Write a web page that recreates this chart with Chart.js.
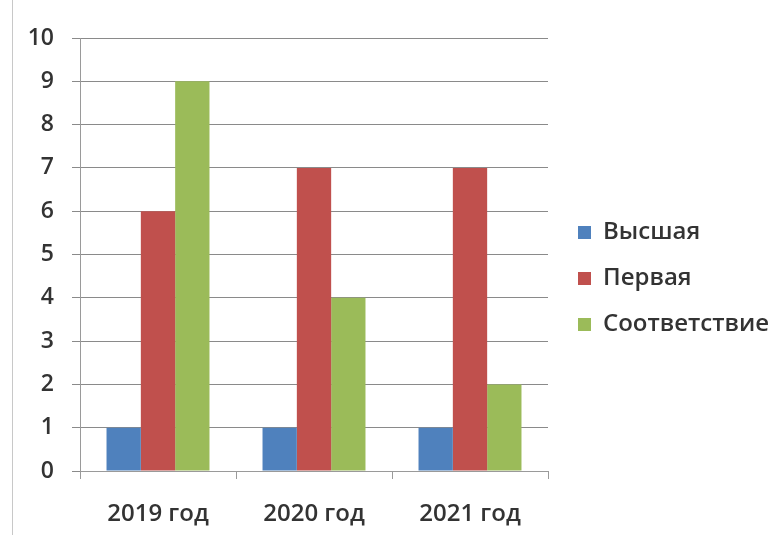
<!DOCTYPE html>
<html><head><meta charset="utf-8">
<script src="https://cdn.jsdelivr.net/npm/chart.js@4.4.0/dist/chart.umd.min.js"></script>
<style>
html,body{margin:0;padding:0;background:#fff;}
#wrap{position:relative;width:782px;height:535px;}
#frame{position:absolute;left:12px;top:0;width:1px;height:535px;background:#c8c8c8;}
canvas{position:absolute;left:0;top:0;}
</style></head>
<body><div id="wrap"><div id="frame"></div><canvas id="c" width="782" height="535"></canvas></div>
<script>
const categories = ['2019 год', '2020 год', '2021 год'];
const seriesNames = ['Высшая', 'Первая', 'Соответствие'];
const vysshaya = [1, 1, 1];
const pervaya = [6, 7, 7];
const sootvetstvie = [9, 4, 2];
const yTicks = [0,1,2,3,4,5,6,7,8,9,10];

const colors = ['#4F81BD', '#C0504D', '#9BBB59'];
const textColor = '#333333';
const FONT = '"Open Sans", "Noto Sans", sans-serif';

const legendPlugin = {
  id: 'legendPos',
  beforeInit(chart) {
    const lg = chart.legend;
    const fit = lg.fit;
    lg.fit = function () { fit.call(this); this.width = 234; };
  },
  afterLayout(chart) {
    const lg = chart.legend;
    lg.left = 578 - lg.options.labels.padding;
    lg.top -= 8; lg.bottom -= 8;
  }
};

new Chart(document.getElementById('c'), {
  type: 'bar',
  data: {
    labels: categories,
    datasets: [
      { label: seriesNames[0], data: vysshaya, backgroundColor: colors[0] },
      { label: seriesNames[1], data: pervaya, backgroundColor: colors[1] },
      { label: seriesNames[2], data: sootvetstvie, backgroundColor: colors[2] }
    ]
  },
  plugins: [legendPlugin],
  options: {
    responsive: false,
    animation: false,
    devicePixelRatio: 1,
    layout: { padding: { top: 38, left: 0, right: 0, bottom: 0 } },
    datasets: { bar: { categoryPercentage: 0.66, barPercentage: 1.0 } },
    plugins: {
      tooltip: { enabled: false },
      legend: {
        position: 'right',
        align: 'center',
        labels: {
          boxWidth: 13, boxHeight: 13, padding: 22,
          color: textColor,
          font: { family: FONT, size: 24, weight: '600' }
        }
      }
    },
    scales: {
      x: {
        afterFit(s) { s.height = 64; },
        grid: { display: true, drawOnChartArea: false, drawTicks: true, tickLength: 8, color: '#9a9a9a', offset: true },
        border: { display: true, color: '#9a9a9a' },
        ticks: { color: textColor, padding: 21, font: { family: FONT, size: 24, weight: '600' } }
      },
      y: {
        min: 0, max: 10,
        afterFit(s) { s.width = 80; },
        afterBuildTicks(s) { s.ticks = yTicks.map(v => ({ value: v })); },
        grid: { color: '#8a8a8a', tickLength: 8, lineWidth: 1 },
        border: { display: true, color: '#9a9a9a' },
        ticks: { color: textColor, padding: 18, font: { family: FONT, size: 23, weight: '600' } }
      }
    }
  }
});
</script></body></html>
